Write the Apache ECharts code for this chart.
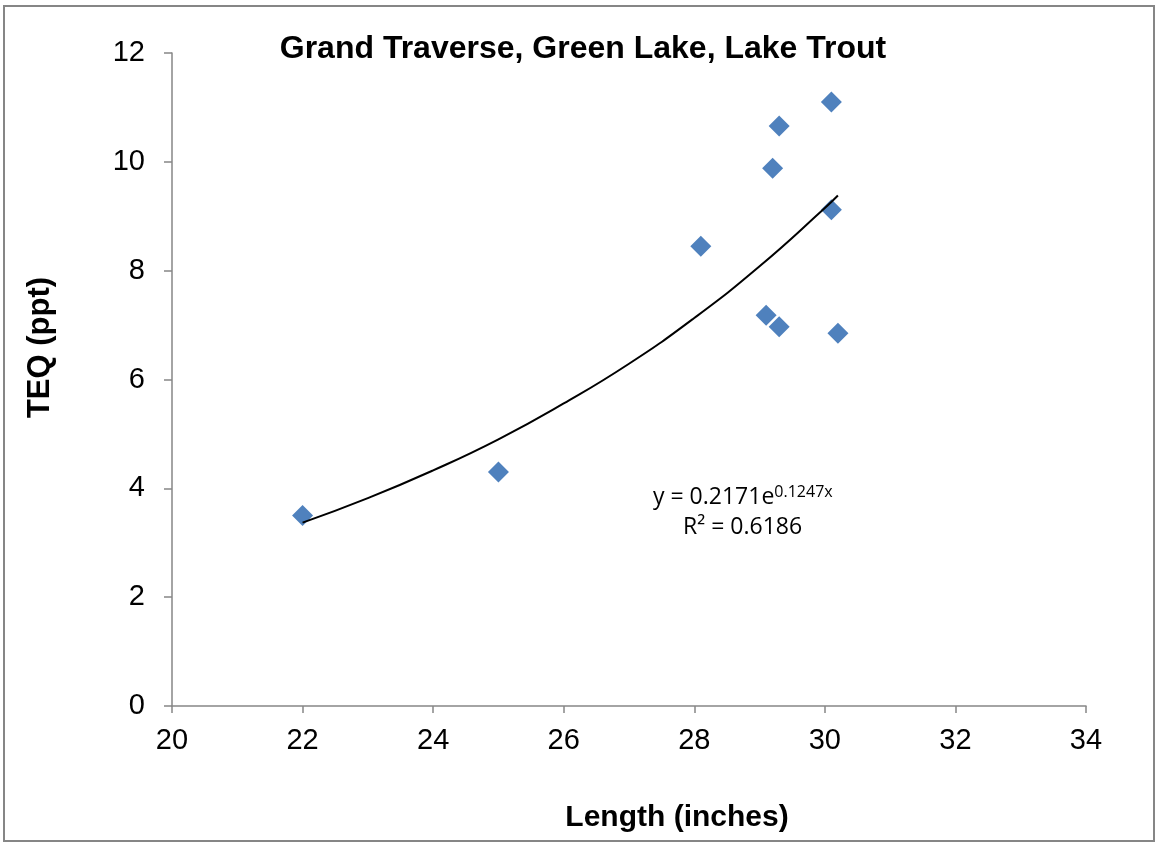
<!DOCTYPE html>
<html>
<head>
<meta charset="utf-8">
<script src="https://cdn.jsdelivr.net/npm/echarts@6/dist/echarts.min.js"></script>
<style>
html, body { margin: 0; padding: 0; background: #fff; }
#main { width: 1156px; height: 842px; }
</style>
</head>
<body>
<div id="main"></div>
<script>
var lengths = [22, 25, 28.1, 29.2, 29.3, 30.1, 30.1, 29.1, 29.3, 30.2];
var teq = [3.5, 4.3, 8.45, 9.88, 10.66, 11.1, 9.12, 7.18, 6.97, 6.85];
// exponential trendline y = 0.2171e^(0.1247x), read at these lengths
var trendX = [22, 23, 24, 25, 26, 27, 28, 29, 30, 30.2];
var trendY = [3.37, 3.82, 4.33, 4.90, 5.56, 6.29, 7.13, 8.08, 9.15, 9.38];
var xTicks = [20, 22, 24, 26, 28, 30, 32, 34];
var yTicks = [0, 2, 4, 6, 8, 10, 12];

var dom = document.getElementById('main');
var myChart = echarts.init(dom);
var font = '"Liberation Sans", Arial, sans-serif';
var eqFont = '"Open Sans", sans-serif';

var points = lengths.map(function (x, i) { return [x, teq[i]]; });
var trend = trendX.map(function (x, i) { return [x, trendY[i]]; });

var option = {
    backgroundColor: '#fff',
    animation: false,
    title: {
        text: 'Grand Traverse, Green Lake, Lake Trout',
        left: 578,
        top: 28,
        textAlign: 'center',
        textStyle: { fontFamily: font, fontSize: 32, fontWeight: 'bold', color: '#000' }
    },
    grid: { left: 172, right: 70, top: 53, bottom: 136 },
    xAxis: {
        type: 'value',
        min: xTicks[0],
        max: xTicks[xTicks.length - 1],
        interval: 2,
        name: 'Length (inches)',
        nameLocation: 'middle',
        nameGap: 97,
        nameTextStyle: { fontFamily: font, fontSize: 30, fontWeight: 'bold', color: '#000', padding: [0, 0, 0, 96] },
        axisLine: { onZero: false, lineStyle: { color: '#868686', width: 1.5 } },
        axisTick: { show: true, length: 7, lineStyle: { color: '#868686', width: 1.5 } },
        axisLabel: { fontFamily: font, fontSize: 29, color: '#000', margin: 20 },
        splitLine: { show: false }
    },
    yAxis: {
        type: 'value',
        min: yTicks[0],
        max: yTicks[yTicks.length - 1],
        interval: 2,
        name: 'TEQ (ppt)',
        nameLocation: 'middle',
        nameGap: 116,
        nameTextStyle: { fontFamily: font, fontSize: 31, fontWeight: 'bold', color: '#000', padding: [0, 0, 0, 64] },
        axisLine: { show: true, lineStyle: { color: '#868686', width: 1.5 } },
        axisTick: { show: true, length: 8, lineStyle: { color: '#868686', width: 1.5 } },
        axisLabel: { fontFamily: font, fontSize: 29, color: '#000', margin: 27 },
        splitLine: { show: false }
    },
    graphic: [
        {
            type: 'rect',
            shape: { x: 4, y: 6, width: 1150, height: 835 },
            style: { fill: null, stroke: '#868686', lineWidth: 2 },
            silent: true
        },
        {
            type: 'text',
            left: 653,
            top: 484,
            style: {
                text: '{m|y = 0.2171e}{s|0.1247x}',
                rich: {
                    m: { fontFamily: eqFont, fontSize: 23, fill: '#000' },
                    s: { fontFamily: eqFont, fontSize: 16, fill: '#000', verticalAlign: 'top', padding: [0, 0, 10, 0] }
                }
            }
        },
        {
            type: 'text',
            left: 683,
            top: 516,
            style: {
                text: 'R² = 0.6186',
                fontFamily: eqFont,
                fontSize: 23,
                fill: '#000'
            }
        }
    ],
    series: [
        {
            name: 'Trend',
            type: 'line',
            data: trend,
            smooth: true,
            showSymbol: false,
            lineStyle: { color: '#000', width: 2 },
            z: 3
        },
        {
            name: 'TEQ',
            type: 'scatter',
            data: points,
            symbol: 'diamond',
            symbolSize: [21, 21],
            itemStyle: { color: '#4F81BD', opacity: 1 },
            z: 2
        }
    ]
};

myChart.setOption(option);
</script>
</body>
</html>
